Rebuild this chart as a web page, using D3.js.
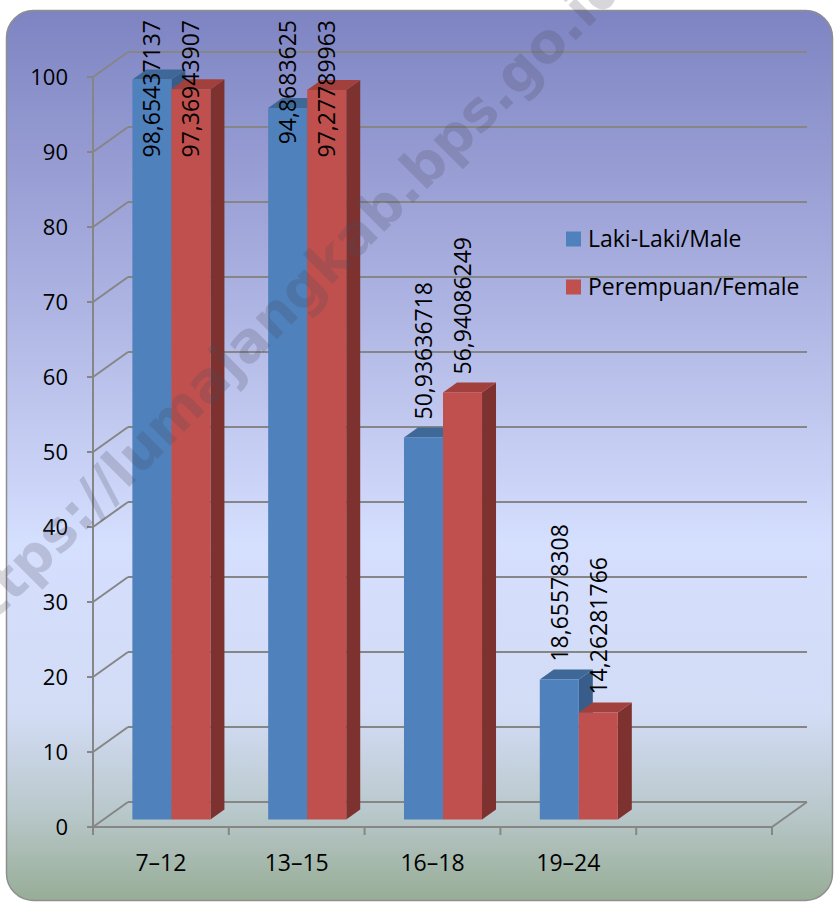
<!DOCTYPE html>
<html>
<head>
<meta charset="utf-8">
<script src="https://cdn.jsdelivr.net/npm/d3@7"></script>
<style>
  body { margin: 0; background: #fff; }
  text { font-family: "Open Sans", "Noto Sans", sans-serif; fill: #000; }
</style>
</head>
<body>
<script>
// chart data
var categories = ["7–12", "13–15", "16–18", "19–24", ""];
var series = ["Laki-Laki/Male", "Perempuan/Female"];
var male = [98.65437137, 94.8683625, 50.93636718, 18.65578308, null];
var female = [97.36943907, 97.27789963, 56.94086249, 14.26281766, null];
var yTickValues = [0, 10, 20, 30, 40, 50, 60, 70, 80, 90, 100];

var width = 837, height = 904;
var depth = { dx: 35, dy: -25, front: 0.3, back: 0.7 };   // 3d wall depth and bar depth range
var colors = {
  male:   { front: "#4f81bd", top: "#3e6898", side: "#385d8a" },
  female: { front: "#c0504d", top: "#a2403d", side: "#7e3230" }
};

var svg = d3.select("body").append("svg")
    .attr("width", width)
    .attr("height", height);

var defs = svg.append("defs");
var grad = defs.append("linearGradient")
    .attr("id", "bg")
    .attr("x1", 0).attr("y1", 0).attr("x2", 0).attr("y2", 1);
[[0, "#7e84c2"], [0.3, "#a9afdf"], [0.6, "#d5dffe"], [0.79, "#d2dcf5"], [0.9, "#b9c8cb"], [1, "#97ad96"]]
  .forEach(function(s) { grad.append("stop").attr("offset", s[0]).attr("stop-color", s[1]); });

svg.append("rect")
    .attr("x", 6.5).attr("y", 10.5)
    .attr("width", 826).attr("height", 890)
    .attr("rx", 27)
    .attr("fill", "url(#bg)")
    .attr("stroke", "#8e8e8e")
    .attr("stroke-width", 1.5);

var x0 = d3.scaleBand().domain(categories).range([93, 772]);
var x1 = d3.scaleBand().domain(series).range([0, x0.bandwidth()]).paddingOuter(0.74);
var y = d3.scaleLinear().domain([0, 100]).range([827, 77]);

function px(x, d) { return x + depth.dx * d; }
function py(yv, d) { return yv + depth.dy * d; }

var gridColor = "#868686";
var grid = svg.append("g").attr("stroke", gridColor).attr("stroke-width", 2).attr("fill", "none");

// back wall gridlines
grid.selectAll("line.grid").data(yTickValues).enter().append("line")
    .attr("class", "grid")
    .attr("x1", px(93, 1)).attr("x2", px(772, 1))
    .attr("y1", function(d) { return py(y(d), 1); })
    .attr("y2", function(d) { return py(y(d), 1); });

// side wall diagonals
grid.selectAll("line.diag").data(yTickValues).enter().append("line")
    .attr("class", "diag")
    .attr("x1", 93).attr("x2", px(93, 1))
    .attr("y1", function(d) { return y(d); })
    .attr("y2", function(d) { return py(y(d), 1); });

// floor
grid.append("path")
    .attr("d", "M" + 93 + "," + y(0) + "H" + 772 + "L" + px(772, 1) + "," + py(y(0), 1));

// y axis
grid.append("line").attr("x1", 93).attr("x2", 93).attr("y1", y(0) + 1).attr("y2", y(100));
grid.selectAll("line.ytick").data(yTickValues).enter().append("line")
    .attr("x1", 87).attr("x2", 93)
    .attr("y1", function(d) { return y(d); })
    .attr("y2", function(d) { return y(d); });

// x ticks
var xBounds = categories.map(function(c) { return x0(c); }).concat([x0.range()[1]]);
grid.selectAll("line.xtick").data(xBounds).enter().append("line")
    .attr("x1", function(d) { return d; }).attr("x2", function(d) { return d; })
    .attr("y1", y(0)).attr("y2", y(0) + 8);

svg.append("g").selectAll("text").data(yTickValues).enter().append("text")
    .attr("x", 68)
    .attr("y", function(d) { return y(d); })
    .attr("dy", "0.36em")
    .attr("text-anchor", "end")
    .style("font-size", "22px")
    .text(function(d) { return d; });

svg.append("g").selectAll("text").data(categories).enter().append("text")
    .attr("x", function(d) { return x0(d) + x0.bandwidth() / 2; })
    .attr("y", 863)
    .attr("dy", "0.36em")
    .attr("text-anchor", "middle")
    .style("font-size", "23px")
    .text(function(d) { return d; });

// bars
var bars = [];
categories.forEach(function(c, i) {
  if (male[i] != null) bars.push({ cat: c, s: series[0], v: male[i], col: colors.male });
  if (female[i] != null) bars.push({ cat: c, s: series[1], v: female[i], col: colors.female });
});

var barG = svg.append("g");
bars.forEach(function(b) {
  var xl = x0(b.cat) + x1(b.s), xr = xl + x1.bandwidth();
  var yt = y(b.v), yb = y(0);
  var f = depth.front, k = depth.back;
  var g = barG.append("g");
  g.append("path").attr("fill", b.col.side)
    .attr("d", "M" + px(xr, f) + "," + py(yb, f) + "L" + px(xr, k) + "," + py(yb, k) +
      "L" + px(xr, k) + "," + py(yt, k) + "L" + px(xr, f) + "," + py(yt, f) + "Z");
  g.append("path").attr("fill", b.col.top)
    .attr("d", "M" + px(xl, f) + "," + py(yt, f) + "L" + px(xl, k) + "," + py(yt, k) +
      "L" + px(xr, k) + "," + py(yt, k) + "L" + px(xr, f) + "," + py(yt, f) + "Z");
  g.append("rect").attr("fill", b.col.front)
    .attr("x", px(xl, f)).attr("y", py(yt, f))
    .attr("width", xr - xl).attr("height", yb - yt);
  b.cx = px((xl + xr) / 2, f);
  b.top = py(yt, f);
});

// value labels, rotated, kept inside the chart
var labelG = svg.append("g");
bars.forEach(function(b) {
  var t = labelG.append("text")
    .attr("text-anchor", "start")
    .attr("dy", "0.36em")
    .style("font-size", "23px")
    .text(String(b.v).replace(".", ","));
  var len = t.node().getComputedTextLength();
  var bottom = b.top - 18;
  if (bottom - len < 20) bottom = 20 + len;
  t.attr("transform", "translate(" + b.cx + "," + bottom + ") rotate(-90)");
});

// legend
var legend = svg.append("g").selectAll("g").data(series).enter().append("g")
    .attr("transform", function(d, i) { return "translate(566," + (239 + i * 48) + ")"; });
legend.append("rect")
    .attr("x", 0).attr("y", -7.5).attr("width", 15).attr("height", 15)
    .attr("fill", function(d, i) { return i ? colors.female.front : colors.male.front; });
legend.append("text")
    .attr("x", 22).attr("dy", "0.36em")
    .style("font-size", "23px")
    .text(function(d) { return d; });

// watermark
svg.append("text")
    .attr("transform", "translate(283,305) rotate(-45)")
    .attr("text-anchor", "middle")
    .attr("dy", "0.36em")
    .style("font-family", "'DejaVu Sans', sans-serif")
    .style("font-weight", "bold")
    .style("font-size", "55px")
    .style("fill", "#4a4a5c")
    .style("fill-opacity", 0.22)
    .text("https://lumajangkab.bps.go.id");
</script>
</body>
</html>
